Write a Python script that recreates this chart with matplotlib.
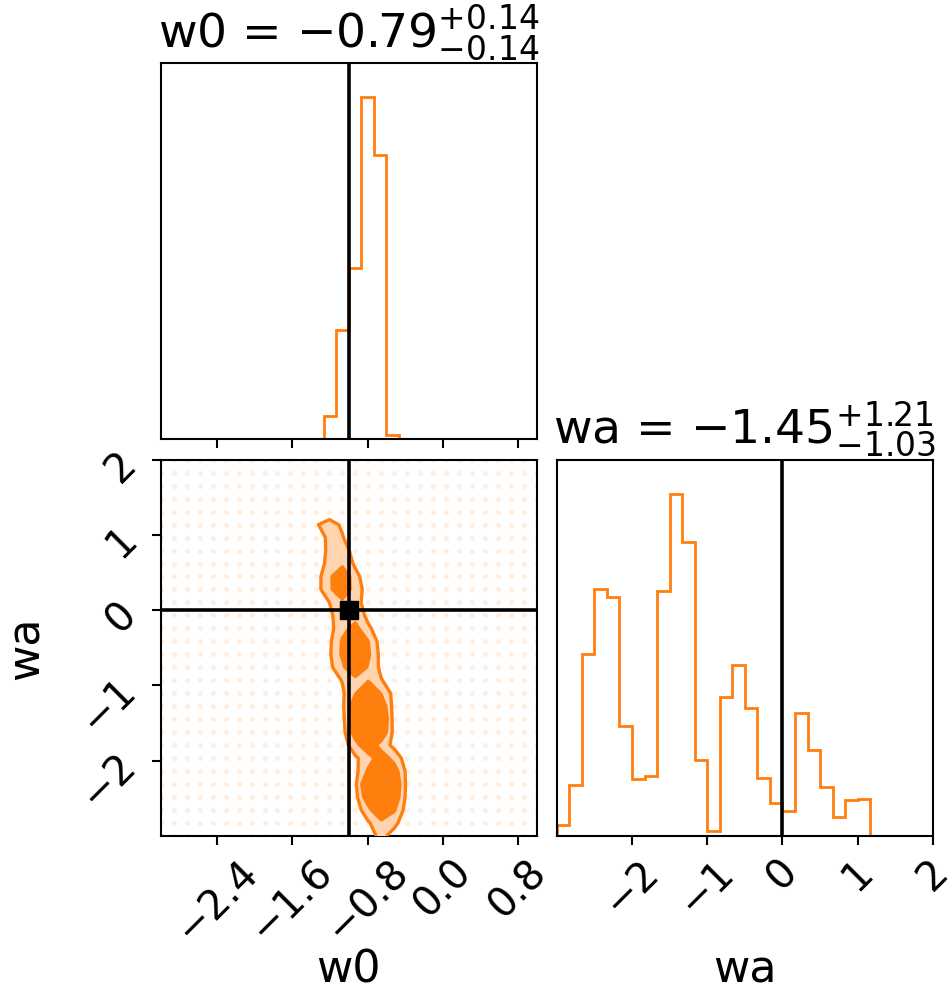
import numpy as np
import matplotlib
matplotlib.use("Agg")
import matplotlib.pyplot as plt

# ---------------------------------------------------------------- data
param_labels = ["w0", "wa"]
truths = [-1.0, 0.0]
w0_range = (-3.0, 1.0)
wa_range = (-3.0, 2.0)
n_bins = 30

# summary statistics shown in the titles: median, +err, -err
w0_summary = (-0.79, 0.14, 0.14)
wa_summary = (-1.45, 1.21, 1.03)

# 1D marginal posteriors (bin heights, relative to the tallest bin)
w0_hist = [0.000, 0.000, 0.000, 0.000, 0.000, 0.000, 0.000, 0.000, 0.000, 0.000,
           0.000, 0.000, 0.000, 0.068, 0.320, 0.500, 1.000, 0.830, 0.012, 0.000,
           0.000, 0.000, 0.000, 0.000, 0.000, 0.000, 0.000, 0.000, 0.000, 0.000]
wa_hist = [0.032, 0.148, 0.533, 0.723, 0.700, 0.322, 0.166, 0.176, 0.716, 1.000,
           0.859, 0.223, 0.016, 0.405, 0.501, 0.374, 0.170, 0.097, 0.073, 0.359,
           0.251, 0.144, 0.055, 0.104, 0.109, 0.000, 0.000, 0.000, 0.000, 0.000]

# sample grid of the likelihood evaluation
n_grid = 30
w0_grid = np.linspace(w0_range[0], w0_range[1], n_grid)
wa_grid = np.linspace(wa_range[0], wa_range[1], n_grid)

# 2D posterior weights on the grid; rows follow wa_grid (from index 0),
# columns are w0_grid[12:20]; every other grid cell is zero
post_col0 = 12
post_rows = [
    [0.00, 0.00, 0.00, 0.00, 0.04, 0.14, 0.04, 0.00],
    [0.00, 0.00, 0.00, 0.00, 0.08, 0.22, 0.14, 0.00],
    [0.00, 0.00, 0.00, 0.00, 0.22, 0.55, 0.32, 0.00],
    [0.00, 0.00, 0.00, 0.03, 0.45, 0.90, 0.45, 0.03],
    [0.00, 0.00, 0.00, 0.06, 0.55, 1.00, 0.50, 0.04],
    [0.00, 0.00, 0.00, 0.04, 0.33, 0.80, 0.40, 0.04],
    [0.00, 0.00, 0.00, 0.07, 0.20, 0.42, 0.22, 0.00],
    [0.00, 0.00, 0.00, 0.22, 0.46, 0.20, 0.05, 0.00],
    [0.00, 0.00, 0.02, 0.40, 0.85, 0.48, 0.03, 0.00],
    [0.00, 0.00, 0.03, 0.50, 0.95, 0.55, 0.01, 0.00],
    [0.00, 0.00, 0.06, 0.45, 0.85, 0.45, 0.01, 0.00],
    [0.00, 0.00, 0.07, 0.28, 0.55, 0.28, 0.03, 0.00],
    [0.00, 0.00, 0.11, 0.21, 0.28, 0.11, 0.00, 0.00],
    [0.00, 0.05, 0.25, 0.52, 0.27, 0.05, 0.00, 0.00],
    [0.00, 0.07, 0.33, 0.65, 0.33, 0.03, 0.00, 0.00],
    [0.00, 0.06, 0.32, 0.60, 0.30, 0.00, 0.00, 0.00],
    [0.00, 0.03, 0.24, 0.36, 0.13, 0.00, 0.00, 0.00],
    [0.00, 0.06, 0.21, 0.22, 0.05, 0.00, 0.00, 0.00],
    [0.00, 0.10, 0.24, 0.18, 0.00, 0.00, 0.00, 0.00],
    [0.02, 0.25, 0.48, 0.18, 0.03, 0.00, 0.00, 0.00],
    [0.02, 0.25, 0.50, 0.15, 0.00, 0.00, 0.00, 0.00],
    [0.00, 0.16, 0.23, 0.07, 0.00, 0.00, 0.00, 0.00],
    [0.00, 0.14, 0.17, 0.04, 0.00, 0.00, 0.00, 0.00],
    [0.01, 0.14, 0.11, 0.00, 0.00, 0.00, 0.00, 0.00],
    [0.09, 0.15, 0.08, 0.00, 0.00, 0.00, 0.00, 0.00],
    [0.00, 0.02, 0.00, 0.00, 0.00, 0.00, 0.00, 0.00],
]
# density thresholds of the outer and inner credible regions
contour_levels = [0.10, 0.30]

w0_ticks = [-2.4, -1.6, -0.8, 0.0, 0.8]
wa_ticks = [-2, -1, 0, 1, 2]

# ---------------------------------------------------------------- style
color = "#ff7f0e"
light = "#ffd4af"
label_size = 32
title_size = 34
tick_size = 29
spine_w = 1.5

fig = plt.figure(figsize=(9.49, 9.91), dpi=100)
W, H = 949.0, 991.0
pw, ph = 376.3 / W, 376.3 / H
x_left, x_right = 160.7 / W, 556.7 / W
y_top, y_bot = 1 - 439.0 / H, 1 - 836.0 / H

ax_h0 = fig.add_axes([x_left, y_top, pw, ph])
ax_2d = fig.add_axes([x_left, y_bot, pw, ph])
ax_h1 = fig.add_axes([x_right, y_bot, pw, ph])


def style_axes(ax):
    for s in ax.spines.values():
        s.set_linewidth(spine_w)
    ax.tick_params(direction="out", length=6.6, width=spine_w,
                   labelsize=tick_size, pad=5)


def title_text(name, summ):
    med, up, lo = summ
    return "{0} = ${1:.2f}_{{-{3:.2f}}}^{{+{2:.2f}}}$".format(name, med, up, lo)


# ---- 1D histograms
edges_w0 = np.linspace(w0_range[0], w0_range[1], n_bins + 1)
edges_wa = np.linspace(wa_range[0], wa_range[1], n_bins + 1)
centers_w0 = 0.5 * (edges_w0[1:] + edges_w0[:-1])
centers_wa = 0.5 * (edges_wa[1:] + edges_wa[:-1])

ax_h0.hist(centers_w0, bins=edges_w0, weights=w0_hist, histtype="step",
           color=color, lw=2.0)
ax_h0.set_xlim(*w0_range)
ax_h0.set_ylim(0, 1.1 * max(w0_hist))
ax_h0.axvline(truths[0], color="k", lw=2.6)
ax_h0.set_yticks([])
ax_h0.set_xticks(w0_ticks)
ax_h0.tick_params(labelbottom=False)
style_axes(ax_h0)
ax_h0.set_title(title_text(param_labels[0], w0_summary), fontsize=title_size, pad=11)

ax_h1.hist(centers_wa, bins=edges_wa, weights=wa_hist, histtype="step",
           color=color, lw=2.0)
ax_h1.set_xlim(*wa_range)
ax_h1.set_ylim(0, 1.1 * max(wa_hist))
ax_h1.axvline(truths[1], color="k", lw=2.6)
ax_h1.set_yticks([])
ax_h1.set_xticks(wa_ticks)
style_axes(ax_h1)
ax_h1.set_title(title_text(param_labels[1], wa_summary), fontsize=title_size, pad=11)
for lab in ax_h1.get_xticklabels():
    lab.set_rotation(45)
ax_h1.set_xlabel(param_labels[1], fontsize=label_size)
ax_h1.xaxis.set_label_coords(0.5, -0.3)

# ---- 2D posterior
post = np.zeros((n_grid, n_grid))
rows = np.array(post_rows)
post[:rows.shape[0], post_col0:post_col0 + rows.shape[1]] = rows
G0, GA = np.meshgrid(w0_grid, wa_grid)

ax_2d.plot(G0.ravel(), GA.ravel(), "o", ms=3.8, color=color, alpha=0.12,
           mec="none", zorder=1)
top = post.max() * 1.0001
ax_2d.contourf(G0, GA, post, levels=[contour_levels[0], top], colors=["white"],
               antialiased=False, zorder=2)
ax_2d.contourf(G0, GA, post, levels=[contour_levels[0], contour_levels[1], top],
               colors=[light, color], antialiased=False, zorder=3)
ax_2d.contour(G0, GA, post, levels=contour_levels, colors=color,
              linewidths=2.4, zorder=4)
ax_2d.axvline(truths[0], color="k", lw=2.6, zorder=5)
ax_2d.axhline(truths[1], color="k", lw=2.6, zorder=5)
ax_2d.plot(truths[0], truths[1], "s", color="k", ms=13, zorder=6)
ax_2d.set_xlim(*w0_range)
ax_2d.set_ylim(*wa_range)
ax_2d.set_xticks(w0_ticks)
ax_2d.set_yticks(wa_ticks)
style_axes(ax_2d)
for lab in ax_2d.get_xticklabels():
    lab.set_rotation(45)
for lab in ax_2d.get_yticklabels():
    lab.set_rotation(45)
ax_2d.set_xlabel(param_labels[0], fontsize=label_size)
ax_2d.set_ylabel(param_labels[1], fontsize=label_size)
ax_2d.xaxis.set_label_coords(0.5, -0.3)
ax_2d.yaxis.set_label_coords(-0.3, 0.5)

fig.savefig("out.png", dpi=100)
